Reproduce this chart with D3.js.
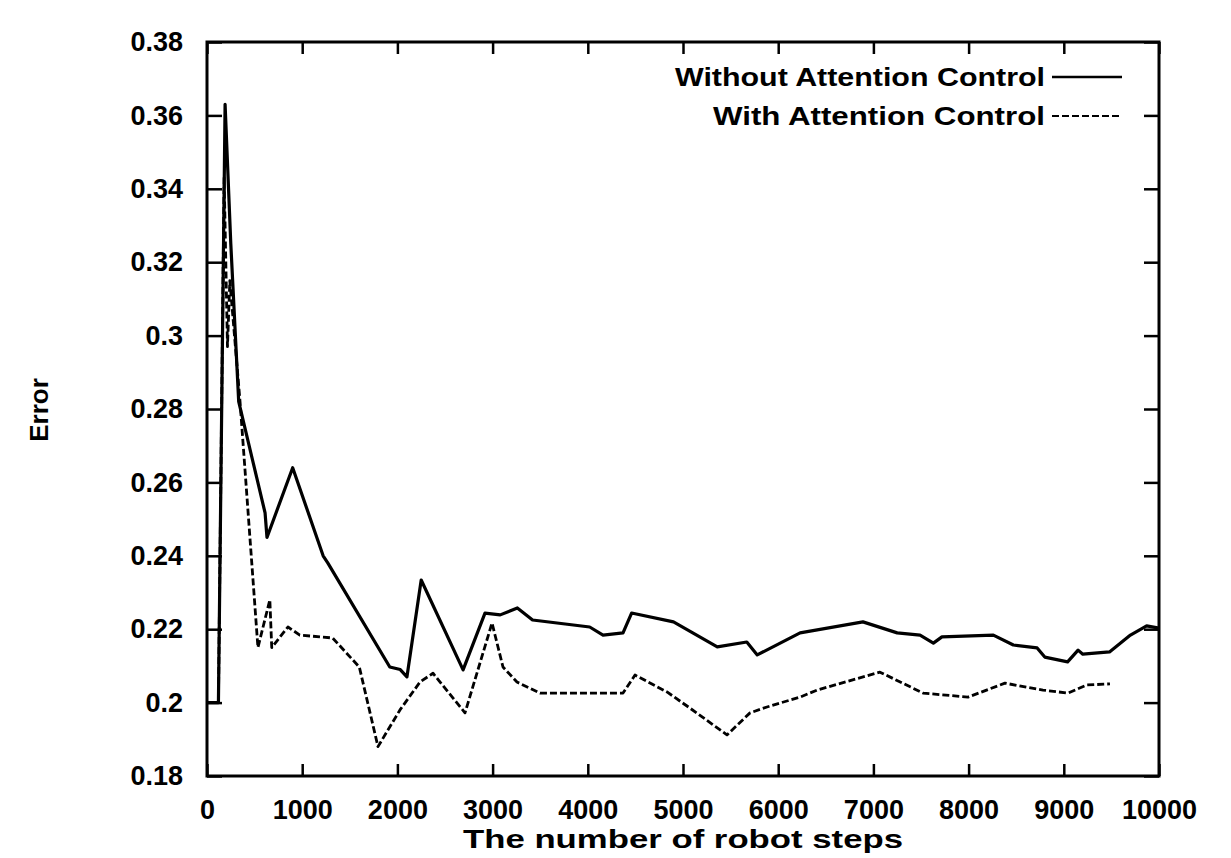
<!DOCTYPE html>
<html>
<head>
<meta charset="utf-8">
<script src="https://cdn.jsdelivr.net/npm/d3@7/dist/d3.min.js"></script>
<style>
  body { margin: 0; background: #fff; }
  text { font-family: "Liberation Sans", Arial, sans-serif; font-weight: bold; fill: #000; }
</style>
</head>
<body>
<div class="D3"></div>
<script>
//chart values
var stepsWithout = [0, 120, 190, 250, 333, 610, 630, 900, 1220, 1270, 1920, 2030, 2100, 2250, 2690, 2920,
  3080, 3260, 3420, 4020, 4160, 4370, 4460, 4900, 5360, 5670, 5780, 6230, 6890, 7250, 7490, 7630,
  7720, 8260, 8470, 8720, 8800, 9040, 9150, 9200, 9480, 9700, 9870, 10000];
var errorWithout = [0.2, 0.2, 0.363, 0.325, 0.282, 0.2517, 0.245, 0.264, 0.240, 0.238, 0.2097, 0.209, 0.207, 0.2334, 0.2089, 0.2244,
  0.2239, 0.2258, 0.2225, 0.2206, 0.2184, 0.219, 0.2244, 0.222, 0.2152, 0.2165, 0.213, 0.219, 0.222, 0.219, 0.2184, 0.2162,
  0.2179, 0.2184, 0.2157, 0.2149, 0.2124, 0.2111, 0.2143, 0.2132, 0.2138, 0.2184, 0.2209, 0.2203];

var stepsWith = [0, 120, 180, 215, 240, 347, 535, 660, 680, 850, 975, 1320, 1600, 1796, 2027, 2237,
  2374, 2710, 2994, 3109, 3256, 3498, 4370, 4496, 4832, 5073, 5462, 5704, 5882, 6229, 6408, 7069,
  7521, 7994, 8382, 8781, 9044, 9244, 9485];
var errorWith = [0.2, 0.2, 0.343, 0.297, 0.315, 0.282, 0.215, 0.228, 0.215, 0.2206, 0.2184, 0.2176, 0.2097, 0.188, 0.198, 0.2056,
  0.208, 0.1972, 0.2217, 0.2097, 0.2056, 0.2026, 0.2026, 0.2075, 0.2029, 0.1985, 0.1912, 0.1972, 0.1988, 0.2015, 0.2034, 0.2083,
  0.2026, 0.2015, 0.2053, 0.2034, 0.2026, 0.2048, 0.2051];

var xTicks = [0, 1000, 2000, 3000, 4000, 5000, 6000, 7000, 8000, 9000, 10000];
var yTicks = [0.18, 0.2, 0.22, 0.24, 0.26, 0.28, 0.3, 0.32, 0.34, 0.36, 0.38];
var seriesNames = ["Without Attention Control", "With Attention Control"];

//svg size and margins
var svgWidth = 1231;
var svgHeight = 858;
var margin = { top: 42, right: 72, bottom: 82, left: 207 };
var chartWidth = svgWidth - margin.left - margin.right;
var chartHeight = svgHeight - margin.top - margin.bottom;

var svg = d3.select(".D3").append("svg")
  .attr("width", svgWidth)
  .attr("height", svgHeight);

var chartGroup = svg.append("g")
  .attr("transform", `translate(${margin.left}, ${margin.top})`);

var xLinearScale = d3.scaleLinear().domain([0, 10000]).range([0, chartWidth]);
var yLinearScale = d3.scaleLinear().domain([0.18, 0.38]).range([chartHeight, 0]);

//gnuplot style: inward ticks on all four sides
function styleAxis(g) {
  g.select(".domain").remove();
  g.selectAll("line").attr("stroke", "#000").attr("stroke-width", 2.5);
  g.selectAll("text").attr("font-size", 27).style("font-family", "'Liberation Sans', Arial, sans-serif")
    .style("font-weight", "bold");
}

chartGroup.append("g")
  .attr("transform", `translate(0, ${chartHeight})`)
  .call(d3.axisBottom(xLinearScale).tickValues(xTicks).tickFormat(d3.format("d")).tickSize(-12).tickPadding(24))
  .call(styleAxis);

chartGroup.append("g")
  .call(d3.axisTop(xLinearScale).tickValues(xTicks).tickFormat("").tickSize(-12))
  .call(styleAxis);

chartGroup.append("g")
  .call(d3.axisLeft(yLinearScale).tickValues(yTicks).tickFormat(d => d3.format("")(+d.toFixed(2))).tickSize(-15).tickPadding(24))
  .call(styleAxis);

chartGroup.append("g")
  .attr("transform", `translate(${chartWidth}, 0)`)
  .call(d3.axisRight(yLinearScale).tickValues(yTicks).tickFormat("").tickSize(-15))
  .call(styleAxis);

//frame
chartGroup.append("rect")
  .attr("width", chartWidth)
  .attr("height", chartHeight)
  .attr("fill", "none")
  .attr("stroke", "#000")
  .attr("stroke-width", 3);

//lines
var line = d3.line()
  .x(d => xLinearScale(d[0]))
  .y(d => yLinearScale(d[1]));

chartGroup.append("path")
  .datum(d3.zip(stepsWithout, errorWithout))
  .attr("fill", "none")
  .attr("stroke", "#000")
  .attr("stroke-width", 3.2)
  .attr("stroke-linejoin", "round")
  .attr("d", line);

chartGroup.append("path")
  .datum(d3.zip(stepsWith, errorWith))
  .attr("fill", "none")
  .attr("stroke", "#000")
  .attr("stroke-width", 2.8)
  .attr("stroke-dasharray", "7,3")
  .attr("stroke-linejoin", "round")
  .attr("d", line);

//legend
var legend = svg.append("g");
var legendY = [77, 116];
seriesNames.forEach(function(name, i) {
  legend.append("text")
    .attr("x", 1045)
    .attr("y", legendY[i] + 9)
    .attr("text-anchor", "end")
    .attr("font-size", 25)
    .attr("textLength", i === 0 ? 370 : 332)
    .attr("lengthAdjust", "spacingAndGlyphs")
    .text(name);
  legend.append("line")
    .attr("x1", 1052).attr("x2", 1122)
    .attr("y1", legendY[i]).attr("y2", legendY[i])
    .attr("stroke", "#000")
    .attr("stroke-width", i === 0 ? 2.6 : 2.2)
    .attr("stroke-dasharray", i === 0 ? null : "7,3");
});

//axis titles
svg.append("text")
  .attr("x", margin.left + chartWidth / 2)
  .attr("y", 848)
  .attr("text-anchor", "middle")
  .attr("font-size", 26)
  .attr("textLength", 440)
  .attr("lengthAdjust", "spacingAndGlyphs")
  .text("The number of robot steps");

svg.append("text")
  .attr("transform", "translate(48, 410) rotate(-90)")
  .attr("text-anchor", "middle")
  .attr("font-size", 26)
  .text("Error");
</script>
</body>
</html>
